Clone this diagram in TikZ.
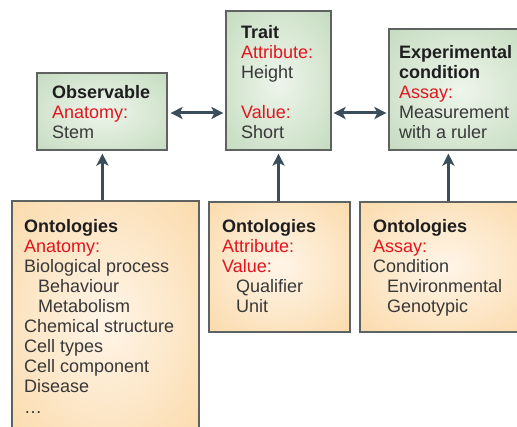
\documentclass[tikz,border=0pt]{standalone}
\usepackage{fontspec}
\setmainfont{Liberation Sans}
\usetikzlibrary{arrows.meta,calc}
\definecolor{gout}{HTML}{C2DABD}
\definecolor{gin}{HTML}{EEF5EB}
\definecolor{oout}{HTML}{FAD9A8}
\definecolor{oin}{HTML}{FFF5E8}
\definecolor{bord}{HTML}{5E6260}
\definecolor{arrc}{HTML}{3A4D5B}
\definecolor{redt}{HTML}{E3141E}
\definecolor{bodyt}{HTML}{383838}
\definecolor{headt}{HTML}{1E1E1E}
\pgfdeclareradialshading{gshade}{\pgfpoint{0bp}{0bp}}{color(0bp)=(gin); color(38bp)=(gout); color(50bp)=(gout)}
\pgfdeclareradialshading{oshade}{\pgfpoint{0bp}{0bp}}{color(0bp)=(oin); color(38bp)=(oout); color(50bp)=(oout)}
\newcommand{\hd}[1]{{\bfseries\color{headt}#1}}
\newcommand{\rd}[1]{{\color{redt}#1}}
\newcommand{\ind}{\hspace*{14pt}}
\tikzset{
  gbox/.style={draw=bord, line width=1.2pt, shading=gshade, inner sep=0pt},
  obox/.style={draw=bord, line width=1.2pt, shading=oshade, inner sep=0pt},
  txt/.style={anchor=base west, inner sep=0pt, text=bodyt},
  arr/.style={draw=arrc, line width=3pt, -{Stealth[length=12pt,width=12pt,inset=3pt]}},
  darr/.style={draw=arrc, line width=3pt, {Stealth[length=12pt,width=12pt,inset=3pt]}-{Stealth[length=12pt,width=12pt,inset=3pt]}}
}
\newcommand{\blk}[2]{\parbox[t]{#1}{\raggedright\fontsize{18}{20}\selectfont\leavevmode #2}}
\begin{document}
\begin{tikzpicture}[x=1pt,y=-1pt]
\clip (0,0) rectangle (517,427);
\fill[white] (0,0) rectangle (517,427);
% boxes
\node[gbox, minimum width=130pt, minimum height=77pt] (obs) at (102,111.5) {};
\node[gbox, minimum width=105pt, minimum height=139pt] (trait) at (278.5,80.5) {};
\node[gbox, minimum width=141pt, minimum height=121pt] (exp) at (459.5,89.5) {};
\node[obox, minimum width=187pt, minimum height=239pt] (ont1) at (105.5,320.5) {};
\node[obox, minimum width=141pt, minimum height=130pt] (ont2) at (279.5,267) {};
\node[obox, minimum width=170pt, minimum height=130pt] (ont3) at (445,267) {};
% texts
\node[txt] (tobs) at (52,99) {\blk{120pt}{\hd{Observable}\\\rd{Anatomy:}\\Stem}};
\node[txt] (ttrait) at (241,39) {\blk{90pt}{\hd{Trait}\\\rd{Attribute:}\\Height\\[20pt]\rd{Value:}\\Short}};
\node[txt] (texp) at (399,59) {\blk{130pt}{\hd{Experimental}\\\hd{condition}\\\rd{Assay:}\\Measurement\\with a ruler}};
\node[txt] (tont1) at (24,233) {\blk{180pt}{\hd{Ontologies}\\\rd{Anatomy:}\\Biological process\\\ind Behaviour\\\ind Metabolism\\Chemical structure\\Cell types\\Cell component\\Disease\\[1pt]\dots}};
\node[txt] (tont2) at (222,233) {\blk{125pt}{\hd{Ontologies}\\\rd{Attribute:}\\\rd{Value:}\\\ind Qualifier\\\ind Unit}};
\node[txt] (tont3) at (373,233) {\blk{140pt}{\hd{Ontologies}\\\rd{Assay:}\\Condition\\\ind Environmental\\\ind Genotypic}};
% connectors
\draw[darr, shorten <=3pt, shorten >=2pt] (obs.east |- 0,113) -- (trait.west |- 0,113);
\draw[darr, shorten <=2pt, shorten >=2pt] (trait.east |- 0,113) -- (exp.west |- 0,113);
\draw[arr, shorten >=3pt] ($(ont1.north west)+(91,0)$) -- ($(obs.south west)+(66,0)$);
\draw[arr, shorten >=3pt] (ont2.north -| trait.south) -- (trait.south);
\draw[arr, shorten >=3pt] ($(ont3.north west)+(89,0)$) -- ($(exp.south west)+(60,0)$);
\end{tikzpicture}
\end{document}
